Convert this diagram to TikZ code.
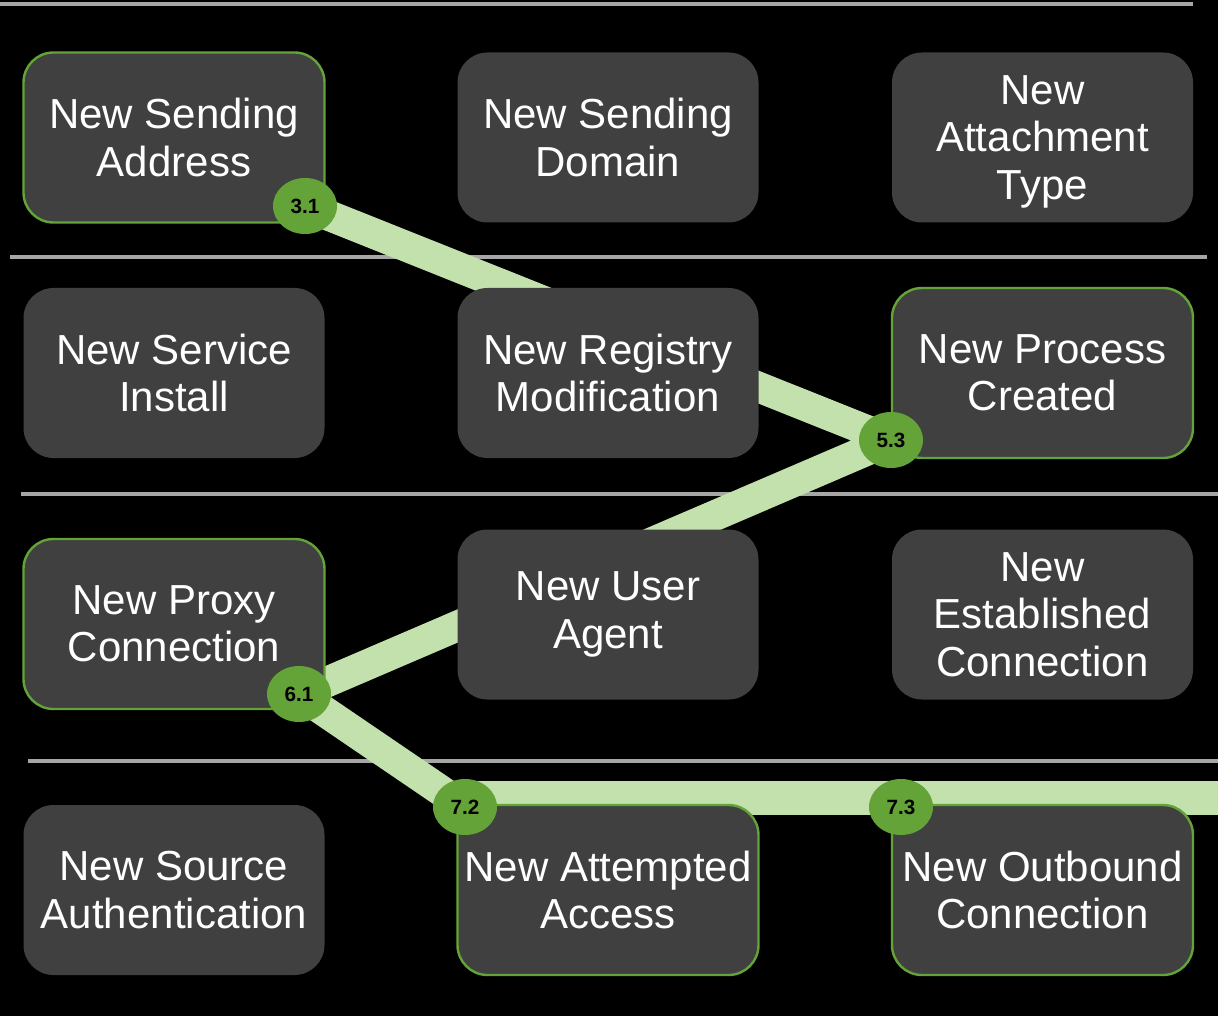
\documentclass[tikz,border=0pt]{standalone}
\usepackage{fontspec}
\setmainfont{Liberation Sans}
\usetikzlibrary{shapes.geometric}
\definecolor{boxfill}{HTML}{404040}
\definecolor{accent}{HTML}{63A338}
\definecolor{stripe}{HTML}{C2E1AC}
\definecolor{sepgray}{HTML}{A6A6A6}
\pgfdeclarelayer{back}
\pgfdeclarelayer{mid}
\pgfsetlayers{back,mid,main}
\tikzset{
 evbox/.style={rectangle, rounded corners=22.5pt, fill=boxfill, minimum width=225.75pt, minimum height=127.5pt, inner sep=0pt, align=center, text=white, font=\fontsize{31.5pt}{35.5pt}\selectfont},
 hot/.style={draw=accent, line width=1.8pt},
 badge/.style={ellipse, fill=accent, minimum width=48pt, minimum height=42pt, inner sep=0pt, font=\bfseries\fontsize{15.5pt}{17pt}\selectfont, text=black},
 chain/.style={draw=stripe, line width=23pt},
 hchain/.style={draw=stripe, line width=26pt},
 rule/.style={draw=sepgray, line width=2.3pt}
}
\begin{document}
\begin{tikzpicture}[x=0.75pt,y=-0.75pt]
\useasboundingbox (0,0) rectangle (1218,1016);
\begin{pgfonlayer}{back}
\fill[black] (0,0) rectangle (1218,1016);
\draw[rule] (0,4) -- (1193,4);
\draw[rule] (10,257) -- (1207,257);
\draw[rule] (21,494) -- (1218,494);
\draw[rule] (28,761) -- (1218,761);
\end{pgfonlayer}

% boxes
\node[evbox,hot] (a1) at (174,137.5) {New Sending\\Address};
\node[evbox] (a2) at (608,137.5) {New Sending\\Domain};
\node[evbox] (a3) at (1042.5,137.5) {\raisebox{-3.2pt}[\height][\depth]{\parbox{220pt}{\centering New\\Attachment\\Type}}};
\node[evbox] (b1) at (174,373) {New Service\\Install};
\node[evbox] (b2) at (608,373) {New Registry\\Modification};
\node[evbox,hot] (b3) at (1042.5,373) {New Process\\Created};
\node[evbox,hot] (c1) at (174,624) {New Proxy\\Connection};
\node[evbox] (c2) at (608,614.5) {New User\\Agent};
\node[evbox] (c3) at (1042.5,614.5) {New\\Established\\Connection};
\node[evbox] (d1) at (174,890) {New Source\\Authentication};
\node[evbox,hot] (d2) at (608,890) {New Attempted\\Access};
\node[evbox,hot] (d3) at (1042.5,890) {New Outbound\\Connection};

% badges
\node[badge] (b31) at (305,206) {3.1};
\node[badge] (b53) at (891,440) {5.3};
\node[badge] (b61) at (299,694) {6.1};
\node[badge] (b72) at (465,807) {7.2};
\node[badge] (b73) at (901,807) {7.3};
\coordinate (hend) at (1218,798);

\begin{pgfonlayer}{mid}
\draw[chain] (b31.center) -- (b53.center) -- (b61.center) -- (b72.center);
\draw[hchain] (b72.center |- hend) -- (b73.center |- hend) -- (hend);
\end{pgfonlayer}
\end{tikzpicture}
\end{document}
